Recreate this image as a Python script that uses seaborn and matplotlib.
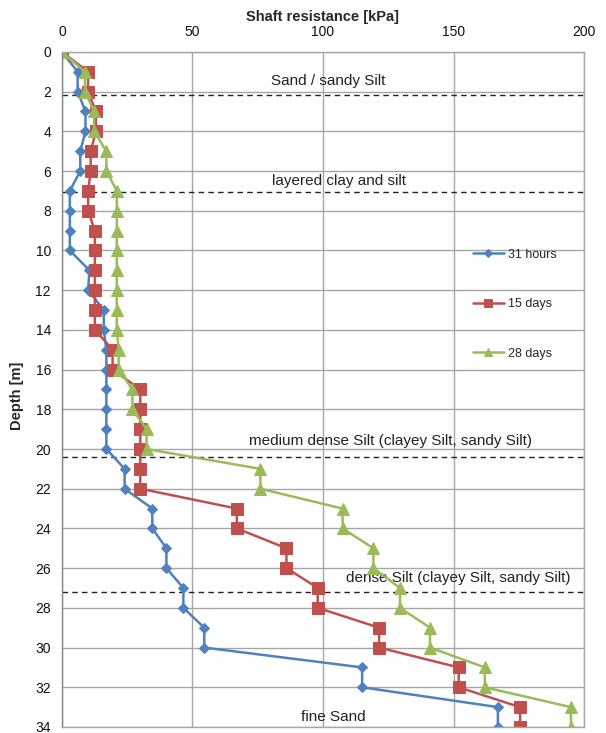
import numpy as np
import pandas as pd
import matplotlib
matplotlib.use("Agg")
import matplotlib.pyplot as plt
import seaborn as sns

# Depth of each measurement [m]
depth = list(range(0, 35))

# Shaft resistance [kPa] at each depth for the three test ages
hours_31 = [0, 6, 6, 9, 9, 7, 7, 3, 3, 3, 3, 10.5, 10, 16, 16, 17, 17, 17, 17, 17, 17,
            24, 24, 34.6, 34.6, 40, 40, 46.5, 46.5, 54.5, 54.5, 115, 115, 167, 167]
days_15 = [0, 10, 10, 13, 13, 11, 11, 10, 10, 12.6, 12.6, 12.6, 12.6, 12.6, 12.6, 19.4, 19.4,
           30, 30, 30, 30, 30, 30, 67, 67, 86, 86, 98, 98, 121.5, 121.5, 152, 152, 175.5, 175.5]
days_28 = [0, 8.8, 8.8, 12.3, 12.3, 17, 17, 21, 21, 21, 21, 21, 21, 21, 21, 21.7, 21.7,
           27, 27, 32.4, 32.4, 76, 76, 107.5, 107.5, 119.3, 119.3, 129.5, 129.5, 141, 141,
           162, 162, 195, 195]

series_names = ["31 hours", "15 days", "28 days"]

# Soil layer boundaries [m] and layer descriptions
boundaries = [2.17, 7.07, 20.4, 27.2]
layer_labels = ["Sand / sandy Silt", "layered clay and silt",
                "medium dense Silt (clayey Silt, sandy Silt)",
                "dense Silt (clayey Silt, sandy Silt)", "fine Sand"]
layer_label_pos = [(102, 1.45), (106, 6.5), (126, 19.6), (152, 26.5), (104, 33.5)]

df = pd.DataFrame({
    "depth": depth * 3,
    "resistance": hours_31 + days_15 + days_28,
    "series": sum([[n] * len(depth) for n in series_names], []),
})

sns.set_theme(style="white")
plt.rcParams["font.family"] = ["Liberation Sans", "DejaVu Sans"]

fig = plt.figure(figsize=(6.06, 7.33), dpi=100)
ax = fig.add_axes([0.1023, 0.0082, 0.8614, 0.921])

colors = {"31 hours": "#4F81BD", "15 days": "#C0504D", "28 days": "#9BBB59"}
markers = {"31 hours": "D", "15 days": "s", "28 days": "^"}
msizes = {"31 hours": 5.5, "15 days": 8, "28 days": 8}

for name in series_names:
    sub = df[df["series"] == name]
    sns.lineplot(data=sub, x="resistance", y="depth", orient="y", sort=False,
                 color=colors[name], marker=markers[name], markersize=msizes[name],
                 markeredgecolor=colors[name], linewidth=1.8, label=name, ax=ax)

ax.set_xlim(0, 200)
ax.set_ylim(34, 0)
ax.set_xticks([0, 50, 100, 150, 200])
ax.set_yticks(np.arange(0, 35, 2))
ax.xaxis.tick_top()
ax.xaxis.set_label_position("top")
ax.tick_params(axis="both", labelsize=10, length=0, colors="#111111")
ax.tick_params(axis="y", pad=8)
ax.tick_params(axis="x", pad=9)
ax.set_xlabel("Shaft resistance [kPa]", fontsize=10.5, fontweight="bold", labelpad=3)
ax.set_ylabel("Depth [m]", fontsize=10.5, fontweight="bold", labelpad=2)
ax.yaxis.set_label_coords(-0.072, 0.49)

ax.grid(True, color="#a6a6a6", linewidth=1)
for side in ["top", "right", "bottom", "left"]:
    ax.spines[side].set_color("#a6a6a6")
    ax.spines[side].set_linewidth(1)
ax.spines["left"].set_color("#868686")

for b in boundaries:
    ax.axhline(b, color="#222222", linestyle=(0, (4, 3)), linewidth=1, zorder=1)

for text, (x, y) in zip(layer_labels, layer_label_pos):
    ax.text(x, y, text, ha="center", va="center", fontsize=11, color="#222222", zorder=1)

leg = ax.legend(loc="upper left", bbox_to_anchor=(0.765, 0.725), frameon=False,
                fontsize=9, labelspacing=3.0, handlelength=2.5, handletextpad=0.3,
                markerscale=0.8)

fig.savefig("out.png", dpi=100)
